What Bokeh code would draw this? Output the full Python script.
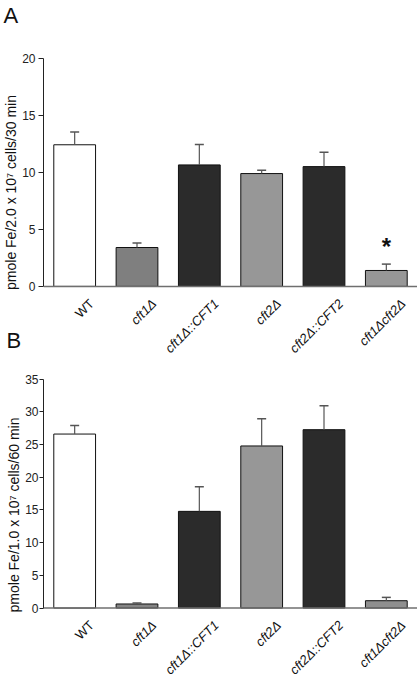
import math
from bokeh.plotting import figure
from bokeh.models import (ColumnDataSource, FactorRange, Range1d, Whisker, TeeHead,
                          LabelSet, FixedTicker, Span, Title)
from bokeh.core.properties import value
from bokeh.layouts import column
from bokeh.embed import file_html
from bokeh.resources import INLINE

# ---------------- data ----------------
strains = ["WT", "cft1Δ", "cft1Δ::CFT1", "cft2Δ", "cft2Δ::CFT2", "cft1Δcft2Δ"]
label_styles = ["normal", "italic", "italic", "italic", "italic", "italic"]

bar_colors_a = ["#ffffff", "#7f7f7f", "#2b2b2b", "#979797", "#2b2b2b", "#979797"]
bar_colors_b = ["#ffffff", "#858585", "#2b2b2b", "#979797", "#2b2b2b", "#8f8f8f"]

iron_a = [12.45, 3.42, 10.68, 9.92, 10.53, 1.40]
err_a = [1.12, 0.40, 1.80, 0.28, 1.27, 0.56]
star_a = ["", "", "", "", "", "*"]

iron_b = [26.6, 0.62, 14.78, 24.78, 27.27, 1.12]
err_b = [1.30, 0.15, 3.76, 4.17, 3.66, 0.51]
star_b = ["", "", "", "", "", ""]

ylabel_a = "pmole Fe/2.0 x 10\u2077 cells/30 min"
ylabel_b = "pmole Fe/1.0 x 10\u2077 cells/60 min"
ticks_a = [0, 5, 10, 15, 20]
ticks_b = [0, 5, 10, 15, 20, 25, 30, 35]

FONT = "Liberation Sans"


def make_panel(letter, values, errs, colors, stars, ylabel, ticks,
               height, y_lo, y_hi, letter_offset, tick_out, lab_standoff):
    src = ColumnDataSource(dict(
        x=strains, top=values, color=colors,
        upper=[v + e for v, e in zip(values, errs)],
        style=label_styles, star=stars,
        base=[0] * len(strains),
    ))
    p = figure(width=417, height=height, x_range=FactorRange(*strains),
               y_range=Range1d(y_lo, y_hi), x_axis_location=None,
               output_backend="svg", toolbar_location=None,
               min_border_left=0, min_border_right=0,
               min_border_top=0, min_border_bottom=0)
    p.outline_line_color = None
    p.xgrid.grid_line_color = None
    p.ygrid.grid_line_color = None

    p.title = Title(text=letter, align="left", offset=letter_offset, standoff=0,
                    text_font=FONT, text_font_size="22px",
                    text_font_style="normal", text_color="#111111")

    p.vbar(x="x", top="top", width=0.67, source=src, fill_color="color",
           line_color="#111111", line_width=1)

    # x baseline
    p.add_layout(Span(location=ticks[0], dimension="width",
                      line_color="#6f6f6f", line_width=1.5))

    w = Whisker(source=src, base="x", lower="top", upper="upper",
                dimension="height", line_color="#555555", line_width=1.2,
                upper_head=TeeHead(size=9, line_color="#555555", line_width=1.5),
                lower_head=None, level="overlay")
    p.add_layout(w)

    # star marker
    p.add_layout(LabelSet(x="x", y="upper", text="star", source=src,
                          y_offset=18, text_align="center", text_baseline="middle",
                          text_font=value(FONT), text_font_size="24px",
                          text_font_style="bold", text_color="#111111"))

    # rotated category labels
    p.add_layout(LabelSet(x="x", y="base", text="x", source=src,
                          x_offset=17, y_offset=-15, angle=math.pi / 4,
                          text_align="right", text_baseline="middle",
                          text_font=value(FONT), text_font_size="13px",
                          text_font_style="style", text_color="#111111"))

    # y axis
    ya = p.yaxis[0]
    ya.bounds = (ticks[0], ticks[-1])
    ya.ticker = FixedTicker(ticks=ticks)
    ya.minor_tick_line_color = None
    ya.major_tick_in = 0
    ya.major_tick_out = tick_out
    ya.axis_line_color = "#222222"
    ya.major_tick_line_color = "#222222"
    ya.major_label_text_font = FONT
    ya.major_label_text_font_size = "12px"
    ya.major_label_text_color = "#222222"
    ya.major_label_standoff = lab_standoff
    ya.axis_label = ylabel
    ya.axis_label_text_font = FONT
    ya.axis_label_text_font_size = "14px"
    ya.axis_label_text_font_style = "normal"
    ya.axis_label_text_color = "#111111"
    ya.axis_label_standoff = 0
    return p


pa = make_panel("A", iron_a, err_a, bar_colors_a, star_a, ylabel_a, ticks_a,
                height=357, y_lo=-6.25, y_hi=22.76, letter_offset=-40,
                tick_out=5, lab_standoff=3)
pb = make_panel("B", iron_b, err_b, bar_colors_b, star_b, ylabel_b, ticks_b,
                height=352, y_lo=-10.62, y_hi=39.07, letter_offset=-37,
                tick_out=4, lab_standoff=1)
# panel B overlaps the bottom of panel A (transparent), as in the original figure
pb.background_fill_color = None
pb.border_fill_color = None
pb.margin = (-32, 0, 0, 0)

layout = column(pa, pb, spacing=0)
open("out.html", "w").write(file_html(layout, INLINE))
